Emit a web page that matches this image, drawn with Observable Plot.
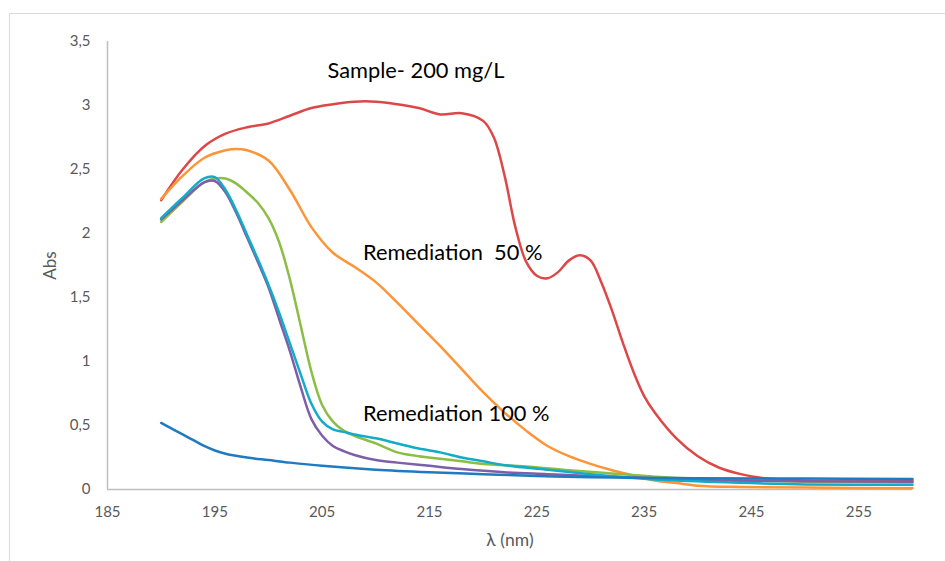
<!DOCTYPE html>
<html><head><meta charset="utf-8">
<script src="https://cdn.jsdelivr.net/npm/d3@7"></script>
<script src="https://cdn.jsdelivr.net/npm/@observablehq/plot@0.6"></script>
<style>
html,body{margin:0;padding:0;background:#fff;overflow:hidden;}
#wrap{position:relative;width:945px;height:561px;background:#fff;}
#frame{position:absolute;left:9px;top:13px;width:980px;height:620px;border:1px solid #d9d9d9;box-sizing:border-box;}
#wrap svg{position:absolute;left:0;top:0;}
svg text{white-space:pre;}
</style></head><body><div id="wrap"><div id="frame"></div></div>
<script>
// ---- data (λ in nm, absorbance) ----
const sampleLambda = [190,192,194,196,198,200,202,204,206,208,210,212,214,216,218,220,221,222,223,224,225,226,227,228,229,230,231,232,233,234,235,236,238,240,242,244,246,248,250,255,260];
const sampleAbs    = [2.26,2.50,2.68,2.78,2.83,2.86,2.92,2.98,3.01,3.03,3.03,3.01,2.98,2.93,2.94,2.88,2.75,2.45,2.05,1.78,1.67,1.65,1.70,1.79,1.83,1.79,1.62,1.40,1.15,0.92,0.73,0.60,0.40,0.26,0.17,0.12,0.09,0.08,0.07,0.07,0.07];

const rem50Lambda = [190,192,194,196,197,198,200,202,204,206,208,210,212,214,216,218,220,222,224,226,228,230,232,234,236,238,240,244,250,260];
const rem50Abs    = [2.27,2.45,2.59,2.65,2.66,2.65,2.57,2.34,2.05,1.85,1.74,1.62,1.46,1.29,1.12,0.94,0.76,0.60,0.46,0.34,0.26,0.20,0.15,0.11,0.07,0.05,0.03,0.02,0.015,0.01];

const greenLambda = [190,192,194,195,196,197,198,199,200,201,202,203,204,205,206,207,208,210,212,214,216,218,220,224,228,232,236,240,245,250,260];
const greenAbs    = [2.09,2.25,2.40,2.43,2.43,2.39,2.32,2.24,2.12,1.93,1.64,1.28,0.92,0.66,0.53,0.46,0.42,0.36,0.29,0.26,0.24,0.22,0.20,0.18,0.15,0.125,0.10,0.085,0.07,0.06,0.057];

const purpleLambda = [190,192,194,195,196,197,198,199,200,201,202,203,204,205,206,207,208,210,212,215,218,222,226,230,235,240,250,260];
const purpleAbs    = [2.11,2.26,2.40,2.41,2.32,2.16,1.97,1.78,1.58,1.33,1.08,0.80,0.55,0.42,0.34,0.30,0.27,0.23,0.21,0.185,0.16,0.135,0.12,0.105,0.09,0.075,0.065,0.06];

const cyanLambda = [190,192,194,195,196,197,198,199,200,201,202,203,204,205,206,207,208,210,212,214,216,218,220,222,226,230,234,238,245,250,260];
const cyanAbs    = [2.12,2.28,2.43,2.44,2.34,2.18,1.99,1.80,1.60,1.38,1.14,0.90,0.67,0.53,0.47,0.45,0.43,0.40,0.36,0.32,0.29,0.25,0.22,0.19,0.155,0.12,0.09,0.07,0.05,0.04,0.037];

const blueLambda = [190,191,192,193,194,195,196,198,200,202,205,210,215,220,225,230,240,250,260];
const blueAbs    = [0.52,0.475,0.43,0.385,0.34,0.305,0.28,0.25,0.23,0.21,0.185,0.155,0.135,0.12,0.105,0.095,0.088,0.085,0.083];

const seriesNames  = ["sample","rem50","green","purple","cyan","blue"];
const seriesColors = ["#dc4848","#fd9537","#8cbd45","#7e5ea8","#12abc8","#1f7bc1"];

const xTicks = [185,195,205,215,225,235,245,255];
const yTicks = [0,0.5,1,1.5,2,2.5,3,3.5];

const annotLabels = ["Sample- 200 mg/L","Remediation  50 %","Remediation 100 %"];
const annotLambda = [205.5,208.8,208.8];
const annotAbs    = [3.27,1.85,0.586];

// ---- build table ----
const lambdas = [sampleLambda,rem50Lambda,greenLambda,purpleLambda,cyanLambda,blueLambda];
const abss    = [sampleAbs,rem50Abs,greenAbs,purpleAbs,cyanAbs,blueAbs];
const rows = [];
seriesNames.forEach((s,i)=>lambdas[i].forEach((l,j)=>rows.push({series:s,lambda:l,abs:abss[i][j]})));
const annots = annotLabels.map((t,i)=>({text:t,lambda:annotLambda[i],abs:annotAbs[i]}));

const gray = "#595959";
const chart = Plot.plot({
  width: 945, height: 561,
  marginLeft: 107, marginRight: 33, marginTop: 41, marginBottom: 72,
  style: {fontFamily: "Lato, 'Open Sans', sans-serif", background: "transparent", overflow: "visible"},
  x: {domain: [185,260], label: null},
  y: {domain: [0,3.5], label: null},
  color: {domain: seriesNames, range: seriesColors},
  marks: [
    Plot.ruleX([185], {stroke: "#bfbfbf", strokeWidth: 1.5}),
    Plot.ruleY([0], {stroke: "#bfbfbf", strokeWidth: 1.5}),
    Plot.axisX({ticks: xTicks, tickSize: 0, tickPadding: 17, fontSize: 15, fill: gray, label: null}),
    Plot.axisY({ticks: yTicks, tickSize: 0, tickPadding: 17, fontSize: 15, fill: gray, label: null,
      tickFormat: d => String(d).replace(".", ",")}),
    Plot.line(rows, {x: "lambda", y: "abs", z: "series", stroke: "series", strokeWidth: 2.5, curve: "catmull-rom"}),
    Plot.text(annots, {x: "lambda", y: "abs", text: "text", textAnchor: "start", fontSize: 21.8, fill: "#000"}),
    Plot.text(["Abs"], {frameAnchor: "left", textAnchor: "middle", rotate: -90, dx: -57, fontSize: 17, fill: gray}),
    Plot.text(["λ (nm)"], {frameAnchor: "bottom", textAnchor: "middle", dy: 56, fontSize: 17.5, fill: gray})
  ]
});
document.getElementById("wrap").appendChild(chart);
</script>
</body></html>
